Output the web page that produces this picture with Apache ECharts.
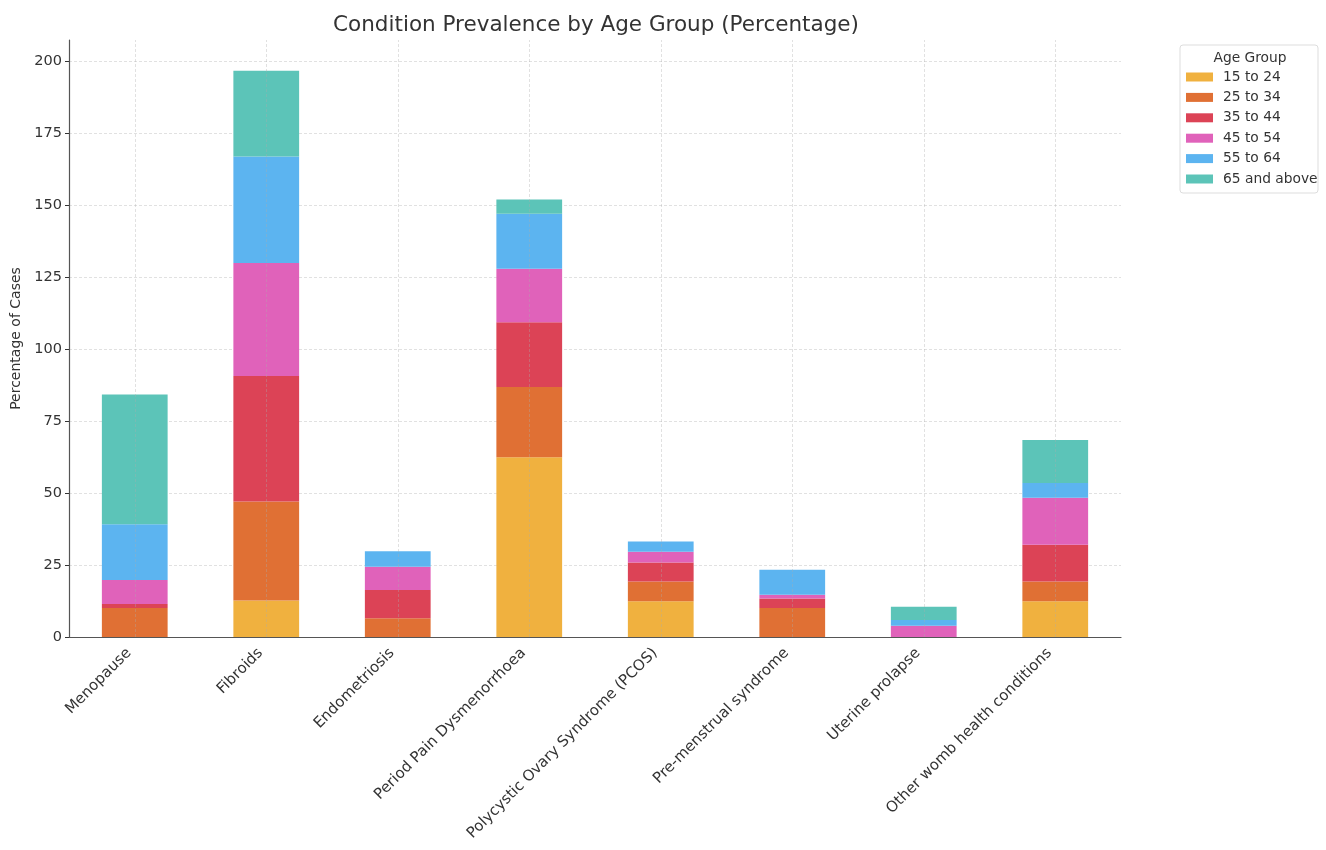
<!DOCTYPE html>
<html>
<head>
<meta charset="utf-8">
<script src="https://cdn.jsdelivr.net/npm/echarts@6/dist/echarts.min.js"></script>
<style>html,body{margin:0;padding:0;background:#fff;}#c{width:1326px;height:850px;}</style>
</head>
<body>
<div id="c"></div>
<script>
const categories = ['Menopause', 'Fibroids', 'Endometriosis', 'Period Pain Dysmenorrhoea', 'Polycystic Ovary Syndrome (PCOS)', 'Pre-menstrual syndrome', 'Uterine prolapse', 'Other womb health conditions'];
const ageGroups = ['15 to 24', '25 to 34', '35 to 44', '45 to 54', '55 to 64', '65 and above'];
const s15to24 = [0, 12.7, 0, 62.5, 12.4, 0, 0, 12.4];
const s25to34 = [10.1, 34.4, 6.5, 24.4, 6.9, 10.1, 0, 6.9];
const s35to44 = [1.4, 43.6, 9.8, 22.5, 6.6, 3.3, 0, 12.8];
const s45to54 = [8.3, 39.3, 8.1, 18.6, 3.7, 1.3, 3.9, 16.3];
const s55to64 = [19.4, 37.0, 5.4, 19.1, 3.6, 8.7, 2.0, 5.1];
const s65plus = [45.1, 29.8, 0, 5.0, 0, 0, 4.6, 15.0];
const yTicks = [0, 25, 50, 75, 100, 125, 150, 175, 200];

const seriesValues = [s15to24, s25to34, s35to44, s45to54, s55to64, s65plus];
const colors = ['#F0B13F', '#E07034', '#DC4356', '#E062BA', '#5CB4F0', '#5CC4B8'];
const FONT = 'DejaVu Sans';

const series = ageGroups.map((name, i) => {
  const s = {
    name: name,
    type: 'bar',
    stack: 'total',
    barWidth: '50%',
    data: seriesValues[i],
    itemStyle: { color: colors[i] },
    emphasis: { disabled: true }
  };
  if (i === ageGroups.length - 1) {
    s.markLine = {
      silent: true,
      symbol: 'none',
      label: { show: false },
      lineStyle: { color: 'rgba(170,170,170,0.45)', type: [3, 2], width: 0.8 },
      data: categories.map(c => ({ xAxis: c }))
    };
  }
  return s;
});

const chart = echarts.init(document.getElementById('c'), null, { renderer: 'canvas' });
chart.setOption({
  animation: false,
  backgroundColor: '#fff',
  textStyle: { fontFamily: FONT },
  title: {
    text: 'Condition Prevalence by Age Group (Percentage)',
    left: 591, top: 9, textAlign: 'center',
    textStyle: { fontFamily: FONT, fontSize: 21.5, fontWeight: 'normal', color: '#333' }
  },
  grid: { left: 69, right: 205, top: 40, bottom: 213, containLabel: false, outerBoundsMode: 'none' },
  legend: {
    orient: 'vertical',
    left: 1181, top: 65,
    itemWidth: 27, itemHeight: 9, itemGap: 6.4,
    icon: 'rect',
    data: ageGroups,
    textStyle: { fontFamily: FONT, fontSize: 13.8, lineHeight: 14, color: '#333', padding: [0, 0, 0, 5] }
  },
  graphic: [
    { type: 'rect', shape: { x: 1180, y: 45, width: 138, height: 148, r: 3 }, style: { fill: 'rgba(255,255,255,0.8)', stroke: '#ddd', lineWidth: 1 }, z: -1 },
    { type: 'text', style: { x: 1250, y: 51, text: 'Age Group', textAlign: 'center', fill: '#333', font: '13.8px "DejaVu Sans"' } }
  ],
  xAxis: {
    type: 'category',
    data: categories,
    boundaryGap: true,
    axisLine: { lineStyle: { color: '#555', width: 1.2 } },
    axisTick: { alignWithLabel: true, length: 4, lineStyle: { color: '#333' } },
    axisLabel: { rotate: 45, fontFamily: FONT, fontSize: 15, color: '#333', margin: 8, padding: [0, 8, 0, 0], interval: 0 },
    splitLine: { show: false }
  },
  yAxis: {
    type: 'value',
    min: 0, max: 207.5, interval: 25,
    name: 'Percentage of Cases',
    nameLocation: 'middle',
    nameGap: 45,
    nameTextStyle: { fontFamily: FONT, fontSize: 14, color: '#333' },
    axisLine: { show: true, lineStyle: { color: '#555', width: 1.2 } },
    axisTick: { show: true, length: 4, lineStyle: { color: '#333' } },
    axisLabel: {
      fontFamily: FONT, fontSize: 14.5, color: '#333', margin: 7,
      showMaxLabel: false,
      formatter: v => (yTicks.indexOf(v) >= 0 ? String(v) : '')
    },
    splitLine: { show: true, showMaxLine: false, lineStyle: { color: 'rgba(170,170,170,0.45)', type: [3, 2], width: 0.8 } }
  },
  series: series
});
</script>
</body>
</html>
